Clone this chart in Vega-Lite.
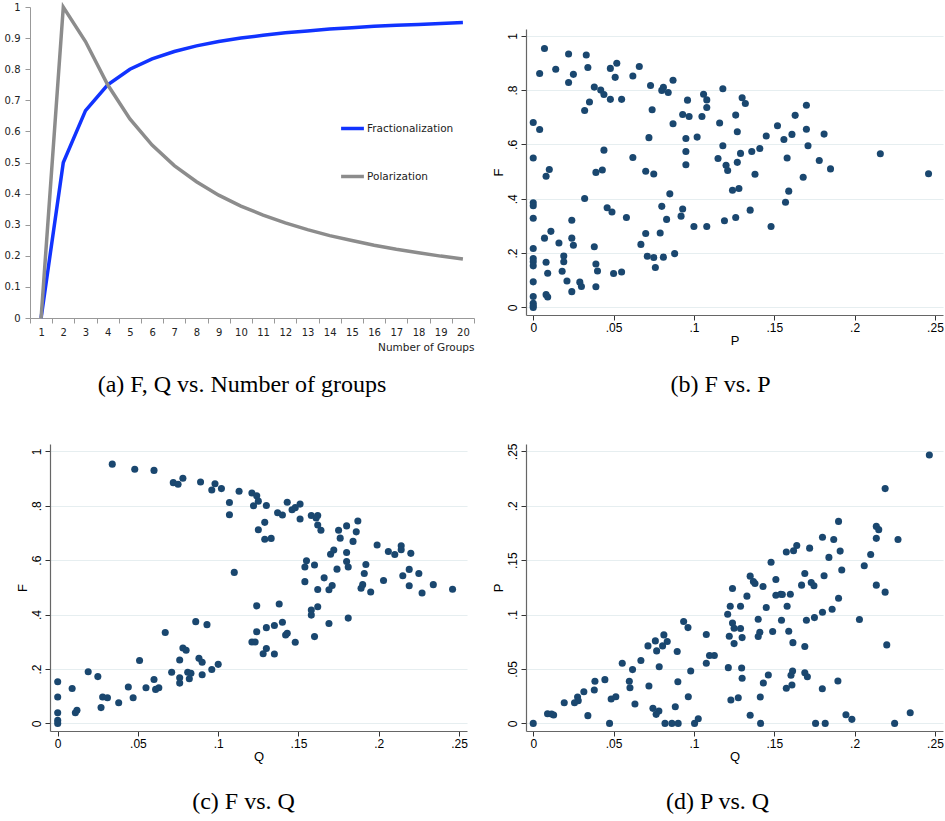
{
  "$schema": "https://vega.github.io/schema/vega-lite/v6.json",
  "padding": {"left": 4, "top": 0, "right": 0, "bottom": 0},
  "background": "white",
  "config": {"view": {"stroke": null}},
  "datasets": {
    "lines": [
      {"groups": 1, "measure": "Fractionalization", "value": 0},
      {"groups": 2, "measure": "Fractionalization", "value": 0.5},
      {"groups": 3, "measure": "Fractionalization", "value": 0.667},
      {"groups": 4, "measure": "Fractionalization", "value": 0.75},
      {"groups": 5, "measure": "Fractionalization", "value": 0.8},
      {"groups": 6, "measure": "Fractionalization", "value": 0.833},
      {"groups": 7, "measure": "Fractionalization", "value": 0.857},
      {"groups": 8, "measure": "Fractionalization", "value": 0.875},
      {"groups": 9, "measure": "Fractionalization", "value": 0.889},
      {"groups": 10, "measure": "Fractionalization", "value": 0.9},
      {"groups": 11, "measure": "Fractionalization", "value": 0.909},
      {"groups": 12, "measure": "Fractionalization", "value": 0.917},
      {"groups": 13, "measure": "Fractionalization", "value": 0.923},
      {"groups": 14, "measure": "Fractionalization", "value": 0.929},
      {"groups": 15, "measure": "Fractionalization", "value": 0.933},
      {"groups": 16, "measure": "Fractionalization", "value": 0.938},
      {"groups": 17, "measure": "Fractionalization", "value": 0.941},
      {"groups": 18, "measure": "Fractionalization", "value": 0.944},
      {"groups": 19, "measure": "Fractionalization", "value": 0.947},
      {"groups": 20, "measure": "Fractionalization", "value": 0.95},
      {"groups": 1, "measure": "Polarization", "value": 0},
      {"groups": 2, "measure": "Polarization", "value": 1},
      {"groups": 3, "measure": "Polarization", "value": 0.889},
      {"groups": 4, "measure": "Polarization", "value": 0.75},
      {"groups": 5, "measure": "Polarization", "value": 0.64},
      {"groups": 6, "measure": "Polarization", "value": 0.556},
      {"groups": 7, "measure": "Polarization", "value": 0.49},
      {"groups": 8, "measure": "Polarization", "value": 0.438},
      {"groups": 9, "measure": "Polarization", "value": 0.395},
      {"groups": 10, "measure": "Polarization", "value": 0.36},
      {"groups": 11, "measure": "Polarization", "value": 0.331},
      {"groups": 12, "measure": "Polarization", "value": 0.306},
      {"groups": 13, "measure": "Polarization", "value": 0.284},
      {"groups": 14, "measure": "Polarization", "value": 0.265},
      {"groups": 15, "measure": "Polarization", "value": 0.249},
      {"groups": 16, "measure": "Polarization", "value": 0.234},
      {"groups": 17, "measure": "Polarization", "value": 0.221},
      {"groups": 18, "measure": "Polarization", "value": 0.21},
      {"groups": 19, "measure": "Polarization", "value": 0.199},
      {"groups": 20, "measure": "Polarization", "value": 0.19}
    ],
    "fp": [
      {"P":0.007,"F":0.953},{"P":0.022,"F":0.933},{"P":0.033,"F":0.929},{"P":0.004,"F":0.861},{"P":0.014,"F":0.877},
      {"P":0.022,"F":0.828},{"P":0.025,"F":0.858},{"P":0.034,"F":0.883},{"P":0.052,"F":0.899},{"P":0.048,"F":0.88},
      {"P":0.051,"F":0.847},{"P":0.066,"F":0.887},{"P":0.062,"F":0.852},{"P":0.038,"F":0.811},{"P":0.042,"F":0.8},
      {"P":0.044,"F":0.784},{"P":0.048,"F":0.766},{"P":0.055,"F":0.766},{"P":0.035,"F":0.756},{"P":0.032,"F":0.725},
      {"P":0.073,"F":0.817},{"P":0.081,"F":0.81},{"P":0.08,"F":0.799},{"P":0.084,"F":0.791},{"P":0.087,"F":0.836},
      {"P":0.074,"F":0.728},{"P":0.096,"F":0.763},{"P":0.106,"F":0.785},{"P":0.108,"F":0.764},{"P":0.108,"F":0.736},
      {"P":0.118,"F":0.805},{"P":0.13,"F":0.772},{"P":0.132,"F":0.751},{"P":0.093,"F":0.71},{"P":0.097,"F":0.703},
      {"P":0.105,"F":0.703},{"P":0.126,"F":0.708},{"P":0.087,"F":0.676},{"P":0.116,"F":0.679},{"P":0,"F":0.681},
      {"P":0.004,"F":0.655},{"P":0.072,"F":0.625},{"P":0.095,"F":0.622},{"P":0.102,"F":0.627},{"P":0.127,"F":0.647},
      {"P":0.118,"F":0.595},{"P":0.044,"F":0.579},{"P":0.062,"F":0.552},{"P":0.095,"F":0.574},{"P":0,"F":0.55},
      {"P":0.01,"F":0.508},{"P":0.008,"F":0.483},{"P":0.039,"F":0.497},{"P":0.043,"F":0.506},{"P":0.07,"F":0.501},
      {"P":0.075,"F":0.491},{"P":0.095,"F":0.525},{"P":0.115,"F":0.548},{"P":0.12,"F":0.523},{"P":0.121,"F":0.504},
      {"P":0.127,"F":0.534},{"P":0.129,"F":0.567},{"P":0.136,"F":0.574},{"P":0.141,"F":0.585},{"P":0.138,"F":0.49},
      {"P":0.145,"F":0.631},{"P":0.152,"F":0.669},{"P":0.156,"F":0.618},{"P":0.161,"F":0.637},{"P":0.163,"F":0.707},
      {"P":0.17,"F":0.744},{"P":0.17,"F":0.656},{"P":0.171,"F":0.595},{"P":0.181,"F":0.638},{"P":0.158,"F":0.55},
      {"P":0.178,"F":0.541},{"P":0.185,"F":0.51},{"P":0.168,"F":0.479},{"P":0.216,"F":0.566},{"P":0.246,"F":0.492},
      {"P":0.124,"F":0.431},{"P":0.128,"F":0.438},{"P":0.159,"F":0.428},{"P":0.157,"F":0.387},{"P":0.135,"F":0.358},
      {"P":0.119,"F":0.319},{"P":0.126,"F":0.331},{"P":0.148,"F":0.298},{"P":0.1,"F":0.298},{"P":0.108,"F":0.298},
      {"P":0.092,"F":0.336},{"P":0.093,"F":0.362},{"P":0.083,"F":0.324},{"P":0.085,"F":0.418},{"P":0.08,"F":0.372},
      {"P":0.079,"F":0.274},{"P":0.07,"F":0.272},{"P":0.067,"F":0.232},{"P":0.071,"F":0.188},{"P":0.075,"F":0.184},
      {"P":0.081,"F":0.185},{"P":0.088,"F":0.198},{"P":0.076,"F":0.147},{"P":0.058,"F":0.331},{"P":0.046,"F":0.367},
      {"P":0.049,"F":0.351},{"P":0.032,"F":0.401},{"P":0,"F":0.385},{"P":0,"F":0.374},{"P":0,"F":0.328},
      {"P":0.024,"F":0.321},{"P":0.011,"F":0.28},{"P":0.007,"F":0.255},{"P":0.024,"F":0.255},{"P":0.016,"F":0.237},
      {"P":0.025,"F":0.229},{"P":0,"F":0.217},{"P":0.038,"F":0.223},{"P":0,"F":0.18},{"P":0,"F":0.168},
      {"P":0,"F":0.153},{"P":0.008,"F":0.166},{"P":0.019,"F":0.189},{"P":0.019,"F":0.168},{"P":0.039,"F":0.16},
      {"P":0.04,"F":0.134},{"P":0.018,"F":0.133},{"P":0.009,"F":0.126},{"P":0.05,"F":0.125},{"P":0.055,"F":0.13},
      {"P":0,"F":0.094},{"P":0.021,"F":0.097},{"P":0.029,"F":0.093},{"P":0.03,"F":0.077},{"P":0.039,"F":0.076},
      {"P":0.024,"F":0.058},{"P":0,"F":0.04},{"P":0.008,"F":0.047},{"P":0.009,"F":0.038},{"P":0,"F":0.015},
      {"P":0,"F":0.006},{"P":0,"F":0}
    ],
    "fq": [
      {"Q":0.034,"F":0.953},{"Q":0.048,"F":0.934},{"Q":0.06,"F":0.93},{"Q":0.072,"F":0.885},{"Q":0.075,"F":0.879},
      {"Q":0.078,"F":0.901},{"Q":0.089,"F":0.887},{"Q":0.098,"F":0.881},{"Q":0.096,"F":0.858},{"Q":0.102,"F":0.863},
      {"Q":0.113,"F":0.853},{"Q":0.121,"F":0.847},{"Q":0.124,"F":0.837},{"Q":0.125,"F":0.817},{"Q":0.122,"F":0.8},
      {"Q":0.13,"F":0.801},{"Q":0.107,"F":0.812},{"Q":0.107,"F":0.767},{"Q":0.143,"F":0.813},{"Q":0.146,"F":0.785},
      {"Q":0.148,"F":0.793},{"Q":0.151,"F":0.806},{"Q":0.137,"F":0.774},{"Q":0.14,"F":0.766},{"Q":0.151,"F":0.751},
      {"Q":0.158,"F":0.764},{"Q":0.162,"F":0.764},{"Q":0.161,"F":0.755},{"Q":0.162,"F":0.729},{"Q":0.164,"F":0.71},
      {"Q":0.129,"F":0.739},{"Q":0.125,"F":0.712},{"Q":0.129,"F":0.677},{"Q":0.133,"F":0.68},{"Q":0.175,"F":0.71},
      {"Q":0.176,"F":0.681},{"Q":0.18,"F":0.726},{"Q":0.186,"F":0.704},{"Q":0.187,"F":0.744},{"Q":0.184,"F":0.669},
      {"Q":0.172,"F":0.637},{"Q":0.17,"F":0.622},{"Q":0.18,"F":0.628},{"Q":0.199,"F":0.656},{"Q":0.206,"F":0.632},
      {"Q":0.21,"F":0.621},{"Q":0.214,"F":0.653},{"Q":0.214,"F":0.638},{"Q":0.22,"F":0.625},{"Q":0.155,"F":0.598},
      {"Q":0.154,"F":0.575},{"Q":0.16,"F":0.582},{"Q":0.18,"F":0.595},{"Q":0.181,"F":0.575},{"Q":0.192,"F":0.584},
      {"Q":0.174,"F":0.567},{"Q":0.166,"F":0.535},{"Q":0.191,"F":0.551},{"Q":0.219,"F":0.566},{"Q":0.215,"F":0.543},
      {"Q":0.225,"F":0.551},{"Q":0.154,"F":0.521},{"Q":0.162,"F":0.492},{"Q":0.171,"F":0.507},{"Q":0.169,"F":0.491},
      {"Q":0.19,"F":0.51},{"Q":0.189,"F":0.497},{"Q":0.195,"F":0.483},{"Q":0.203,"F":0.525},{"Q":0.219,"F":0.506},
      {"Q":0.227,"F":0.479},{"Q":0.234,"F":0.51},{"Q":0.246,"F":0.493},{"Q":0.11,"F":0.555},{"Q":0.124,"F":0.432},
      {"Q":0.138,"F":0.439},{"Q":0.158,"F":0.417},{"Q":0.158,"F":0.398},{"Q":0.162,"F":0.429},{"Q":0.169,"F":0.367},
      {"Q":0.181,"F":0.387},{"Q":0.14,"F":0.372},{"Q":0.135,"F":0.36},{"Q":0.13,"F":0.352},{"Q":0.124,"F":0.337},
      {"Q":0.142,"F":0.325},{"Q":0.143,"F":0.331},{"Q":0.16,"F":0.319},{"Q":0.148,"F":0.298},{"Q":0.121,"F":0.299},
      {"Q":0.123,"F":0.299},{"Q":0.13,"F":0.275},{"Q":0.128,"F":0.256},{"Q":0.135,"F":0.255},{"Q":0.086,"F":0.374},
      {"Q":0.093,"F":0.363},{"Q":0.067,"F":0.334},{"Q":0.051,"F":0.231},{"Q":0.078,"F":0.277},{"Q":0.08,"F":0.269},
      {"Q":0.076,"F":0.233},{"Q":0.088,"F":0.239},{"Q":0.09,"F":0.225},{"Q":0.1,"F":0.217},{"Q":0.096,"F":0.198},
      {"Q":0.09,"F":0.179},{"Q":0.081,"F":0.188},{"Q":0.083,"F":0.184},{"Q":0.076,"F":0.168},{"Q":0.082,"F":0.164},
      {"Q":0.076,"F":0.148},{"Q":0.071,"F":0.188},{"Q":0.06,"F":0.161},{"Q":0.055,"F":0.131},{"Q":0.061,"F":0.125},
      {"Q":0.063,"F":0.131},{"Q":0.044,"F":0.134},{"Q":0.047,"F":0.094},{"Q":0.038,"F":0.076},{"Q":0.031,"F":0.094},
      {"Q":0.028,"F":0.097},{"Q":0.027,"F":0.058},{"Q":0.025,"F":0.172},{"Q":0.019,"F":0.19},{"Q":0.009,"F":0.128},
      {"Q":0.012,"F":0.048},{"Q":0.011,"F":0.039},{"Q":0,"F":0.153},{"Q":0,"F":0.097},{"Q":0,"F":0.039},
      {"Q":0,"F":0.011},{"Q":0,"F":0}
    ],
    "pq": [
      {"Q":0.2465,"P":0.2466},{"Q":0.219,"P":0.2157},{"Q":0.19,"P":0.1856},{"Q":0.2135,"P":0.181},{"Q":0.215,"P":0.178},
      {"Q":0.2135,"P":0.17},{"Q":0.227,"P":0.169},{"Q":0.18,"P":0.171},{"Q":0.187,"P":0.169},{"Q":0.172,"P":0.161},
      {"Q":0.164,"P":0.1635},{"Q":0.162,"P":0.1586},{"Q":0.1575,"P":0.1574},{"Q":0.191,"P":0.1583},{"Q":0.184,"P":0.1525},
      {"Q":0.21,"P":0.1552},{"Q":0.206,"P":0.1448},{"Q":0.148,"P":0.148},{"Q":0.192,"P":0.141},{"Q":0.169,"P":0.1377},
      {"Q":0.181,"P":0.1356},{"Q":0.135,"P":0.1353},{"Q":0.137,"P":0.1304},{"Q":0.138,"P":0.1285},{"Q":0.151,"P":0.1322},
      {"Q":0.143,"P":0.1258},{"Q":0.124,"P":0.1239},{"Q":0.167,"P":0.127},{"Q":0.173,"P":0.1294},{"Q":0.1747,"P":0.1264},
      {"Q":0.2135,"P":0.127},{"Q":0.219,"P":0.1206},{"Q":0.133,"P":0.1169},{"Q":0.151,"P":0.1178},{"Q":0.154,"P":0.1187},
      {"Q":0.155,"P":0.1184},{"Q":0.16,"P":0.1187},{"Q":0.19,"P":0.115},{"Q":0.145,"P":0.1064},{"Q":0.1226,"P":0.1077},
      {"Q":0.129,"P":0.1077},{"Q":0.158,"P":0.1077},{"Q":0.121,"P":0.1003},{"Q":0.18,"P":0.1021},{"Q":0.186,"P":0.1049},
      {"Q":0.175,"P":0.0972},{"Q":0.17,"P":0.0948},{"Q":0.203,"P":0.0954},{"Q":0.14,"P":0.0957},{"Q":0.1545,"P":0.0948},
      {"Q":0.124,"P":0.0923},{"Q":0.125,"P":0.0874},{"Q":0.129,"P":0.0871},{"Q":0.13,"P":0.0788},{"Q":0.122,"P":0.08},
      {"Q":0.141,"P":0.0837},{"Q":0.14,"P":0.0798},{"Q":0.149,"P":0.0844},{"Q":0.159,"P":0.0847},{"Q":0.125,"P":0.0733},
      {"Q":0.1616,"P":0.0742},{"Q":0.169,"P":0.0706},{"Q":0.22,"P":0.0721},{"Q":0.0936,"P":0.0936},{"Q":0.0963,"P":0.088},
      {"Q":0.0813,"P":0.0813},{"Q":0.0834,"P":0.0752},{"Q":0.0805,"P":0.0712},{"Q":0.076,"P":0.0758},{"Q":0.0768,"P":0.0666},
      {"Q":0.0714,"P":0.0712},{"Q":0.0896,"P":0.066},{"Q":0.1077,"P":0.0816},{"Q":0.1097,"P":0.0623},{"Q":0.1127,"P":0.0623},
      {"Q":0.1077,"P":0.0552},{"Q":0.1214,"P":0.0512},{"Q":0.098,"P":0.0482},{"Q":0.0784,"P":0.0521},{"Q":0.067,"P":0.0577},
      {"Q":0.0554,"P":0.0552},{"Q":0.0618,"P":0.0494},{"Q":0.0598,"P":0.0387},{"Q":0.0602,"P":0.0328},{"Q":0.0446,"P":0.0402},
      {"Q":0.0384,"P":0.0387},{"Q":0.038,"P":0.0307},{"Q":0.0315,"P":0.0291},{"Q":0.0276,"P":0.0242},{"Q":0.028,"P":0.0209},
      {"Q":0.0257,"P":0.019},{"Q":0.0193,"P":0.019},{"Q":0.0485,"P":0.0224},{"Q":0.0514,"P":0.0245},{"Q":0.0633,"P":0.0178},
      {"Q":0.072,"P":0.0344},{"Q":0.09,"P":0.0383},{"Q":0.0965,"P":0.0245},{"Q":0.0745,"P":0.0138},{"Q":0.0782,"P":0.0113},
      {"Q":0.0765,"P":0.0083},{"Q":0.0884,"P":0.0153},{"Q":0.1297,"P":0.0509},{"Q":0.13,"P":0.0414},{"Q":0.1463,"P":0.0445},
      {"Q":0.1432,"P":0.0371},{"Q":0.1276,"P":0.0236},{"Q":0.123,"P":0.0215},{"Q":0.1413,"P":0.0242},{"Q":0.1614,"P":0.0482},
      {"Q":0.1604,"P":0.0442},{"Q":0.161,"P":0.0353},{"Q":0.1575,"P":0.0322},{"Q":0.169,"P":0.0466},{"Q":0.1706,"P":0.0429},
      {"Q":0.1896,"P":0.039},{"Q":0.1799,"P":0.0319},{"Q":0.135,"P":0.0074},{"Q":0.1946,"P":0.008},{"Q":0.1983,"P":0.0037},
      {"Q":0.2346,"P":0.0098},{"Q":0.1415,"P":0},{"Q":0.1757,"P":0},{"Q":0.1817,"P":0},{"Q":0.2249,"P":0},
      {"Q":0.1004,"P":0},{"Q":0.1027,"P":0.0043},{"Q":0.082,"P":0},{"Q":0.0863,"P":0},{"Q":0.0902,"P":0},
      {"Q":0.0475,"P":0},{"Q":0.034,"P":0.0071},{"Q":0.0089,"P":0.0089},{"Q":0.0114,"P":0.0086},{"Q":0.0127,"P":0.0077},
      {"Q":0,"P":0}
    ]
  },
  "concat": [
    {
      "title": {"text": "(a) F, Q vs. Number of groups", "orient": "bottom", "anchor": "middle", "offset": 20, "dx": -10, "font": "Liberation Serif", "fontSize": 24, "fontWeight": "normal", "color": "#000"},
      "width": 444,
      "height": 311,
      "data": {"name": "lines"},
      "mark": {"type": "line", "strokeWidth": 3.5},
      "encoding": {
        "x": {
          "field": "groups", "type": "ordinal", "bandPosition": 0.5,
          "scale": {"type": "band", "paddingInner": 0, "paddingOuter": 0},
          "axis": {"title": "Number of Groups", "titleAnchor": "end", "titleFont": "DejaVu Sans", "titleFontSize": 10.5, "titleFontWeight": "normal", "titleColor": "#222", "titlePadding": 5,
                   "labelAngle": 0, "labelFont": "DejaVu Sans", "labelFontSize": 10, "labelColor": "#222", "labelPadding": 4,
                   "tickBand": "extent", "tickSize": 5, "tickColor": "#999", "domainColor": "#999", "grid": false}
        },
        "y": {
          "field": "value", "type": "quantitative",
          "scale": {"domain": [0, 1], "nice": false},
          "axis": {"title": null, "values": [0, 0.1, 0.2, 0.3, 0.4, 0.5, 0.6, 0.7, 0.8, 0.9, 1], "format": ".1~f",
                   "labelFont": "DejaVu Sans", "labelFontSize": 10, "labelColor": "#222", "labelPadding": 5,
                   "tickSize": 5, "tickColor": "#999", "domainColor": "#999", "grid": false}
        },
        "color": {
          "field": "measure", "type": "nominal",
          "scale": {"domain": ["Fractionalization", "Polarization"], "range": ["#1133ff", "#8c8c8c"]},
          "legend": {"title": null, "orient": "none", "legendX": 309, "legendY": 108, "symbolType": "stroke", "symbolSize": 520, "symbolStrokeWidth": 3.5,
                     "labelFont": "DejaVu Sans", "labelFontSize": 10.5, "labelColor": "#222", "labelOffset": 1, "rowPadding": 27}
        }
      }
    },
    {
      "title": {"text": "(b) F vs. P", "orient": "bottom", "anchor": "middle", "offset": 26, "dx": -14, "font": "Liberation Serif", "fontSize": 24, "fontWeight": "normal", "color": "#000"},
      "width": 417,
      "height": 308,
      "data": {"name": "fp"},
      "mark": {"type": "circle", "size": 50, "color": "#1a476f", "opacity": 1},
      "encoding": {
        "x": {
          "field": "P", "type": "quantitative",
          "scale": {"domain": [-0.0045, 0.255], "nice": false, "zero": false},
          "axis": {"title": "P", "values": [0, 0.05, 0.1, 0.15, 0.2, 0.25], "labelExpr": "replace(format(datum.value, '.2~f'), '0.', '.')",
                   "grid": false, "labelFlush": false, "labelOverlap": false,
                   "domainColor": "#666", "domainWidth": 1.2, "tickColor": "#333", "tickSize": 5,
                   "labelFont": "Liberation Sans", "labelFontSize": 12, "labelColor": "#000", "labelPadding": 2,
                   "titleFont": "Liberation Sans", "titleFontSize": 13, "titleFontWeight": "normal", "titleColor": "#000", "titlePadding": 1}
        },
        "y": {
          "field": "F", "type": "quantitative",
          "scale": {"domain": [-0.028, 1.025], "nice": false, "zero": false, "range": [308, 22]},
          "axis": {"title": "F", "values": [0, 0.2, 0.4, 0.6, 0.8, 1], "labelExpr": "replace(format(datum.value, '.2~f'), '0.', '.')",
                   "grid": true, "gridColor": "#e6eef0", "gridWidth": 1.2,
                   "labelAngle": -90, "labelAlign": "center", "labelBaseline": "bottom", "labelFlush": false, "labelOverlap": false,
                   "domainColor": "#666", "domainWidth": 1.2, "tickColor": "#333", "tickSize": 5,
                   "labelFont": "Liberation Sans", "labelFontSize": 12, "labelColor": "#000", "labelPadding": 2,
                   "titleFont": "Liberation Sans", "titleFontSize": 13, "titleFontWeight": "normal", "titleColor": "#000", "titlePadding": 1}
        }
      }
    },
    {
      "title": {"text": "(c) F vs. Q", "orient": "bottom", "anchor": "middle", "offset": 27, "dx": -5, "font": "Liberation Serif", "fontSize": 24, "fontWeight": "normal", "color": "#000"},
      "width": 437,
      "height": 287,
      "data": {"name": "fq"},
      "mark": {"type": "circle", "size": 50, "color": "#1a476f", "opacity": 1},
      "encoding": {
        "x": {
          "field": "Q", "type": "quantitative",
          "scale": {"domain": [-0.0048, 0.255], "nice": false, "zero": false, "range": [20, 437]},
          "axis": {"title": "Q", "values": [0, 0.05, 0.1, 0.15, 0.2, 0.25], "labelExpr": "replace(format(datum.value, '.2~f'), '0.', '.')",
                   "grid": false, "labelFlush": false, "labelOverlap": false,
                   "domainColor": "#666", "domainWidth": 1.2, "tickColor": "#333", "tickSize": 5,
                   "labelFont": "Liberation Sans", "labelFontSize": 12, "labelColor": "#000", "labelPadding": 2,
                   "titleFont": "Liberation Sans", "titleFontSize": 13, "titleFontWeight": "normal", "titleColor": "#000", "titlePadding": 1}
        },
        "y": {
          "field": "F", "type": "quantitative",
          "scale": {"domain": [-0.028, 1.027], "nice": false, "zero": false},
          "axis": {"title": "F", "offset": -20, "values": [0, 0.2, 0.4, 0.6, 0.8, 1], "labelExpr": "replace(format(datum.value, '.2~f'), '0.', '.')",
                   "grid": true, "gridColor": "#e6eef0", "gridWidth": 1.2,
                   "labelAngle": -90, "labelAlign": "center", "labelBaseline": "bottom", "labelFlush": false, "labelOverlap": false,
                   "domainColor": "#666", "domainWidth": 1.2, "tickColor": "#333", "tickSize": 5,
                   "labelFont": "Liberation Sans", "labelFontSize": 12, "labelColor": "#000", "labelPadding": 2,
                   "titleFont": "Liberation Sans", "titleFontSize": 13, "titleFontWeight": "normal", "titleColor": "#000", "titlePadding": 1}
        }
      }
    },
    {
      "title": {"text": "(d) P vs. Q", "orient": "bottom", "anchor": "middle", "offset": 27, "dx": -17, "font": "Liberation Serif", "fontSize": 24, "fontWeight": "normal", "color": "#000"},
      "width": 417,
      "height": 287,
      "data": {"name": "pq"},
      "mark": {"type": "circle", "size": 50, "color": "#1a476f", "opacity": 1},
      "encoding": {
        "x": {
          "field": "Q", "type": "quantitative",
          "scale": {"domain": [-0.0045, 0.255], "nice": false, "zero": false},
          "axis": {"title": "Q", "values": [0, 0.05, 0.1, 0.15, 0.2, 0.25], "labelExpr": "replace(format(datum.value, '.2~f'), '0.', '.')",
                   "grid": false, "labelFlush": false, "labelOverlap": false,
                   "domainColor": "#666", "domainWidth": 1.2, "tickColor": "#333", "tickSize": 5,
                   "labelFont": "Liberation Sans", "labelFontSize": 12, "labelColor": "#000", "labelPadding": 2,
                   "titleFont": "Liberation Sans", "titleFontSize": 13, "titleFontWeight": "normal", "titleColor": "#000", "titlePadding": 1}
        },
        "y": {
          "field": "P", "type": "quantitative",
          "scale": {"domain": [-0.007, 0.2567], "nice": false, "zero": false},
          "axis": {"title": "P", "values": [0, 0.05, 0.1, 0.15, 0.2, 0.25], "labelExpr": "replace(format(datum.value, '.2~f'), '0.', '.')",
                   "grid": true, "gridColor": "#e6eef0", "gridWidth": 1.2,
                   "labelAngle": -90, "labelAlign": "center", "labelBaseline": "bottom", "labelFlush": false, "labelOverlap": false,
                   "domainColor": "#666", "domainWidth": 1.2, "tickColor": "#333", "tickSize": 5,
                   "labelFont": "Liberation Sans", "labelFontSize": 12, "labelColor": "#000", "labelPadding": 2,
                   "titleFont": "Liberation Sans", "titleFontSize": 13, "titleFontWeight": "normal", "titleColor": "#000", "titlePadding": 1}
        }
      }
    }
  ],
  "columns": 2,
  "spacing": {"row": 45, "column": 16}
}
